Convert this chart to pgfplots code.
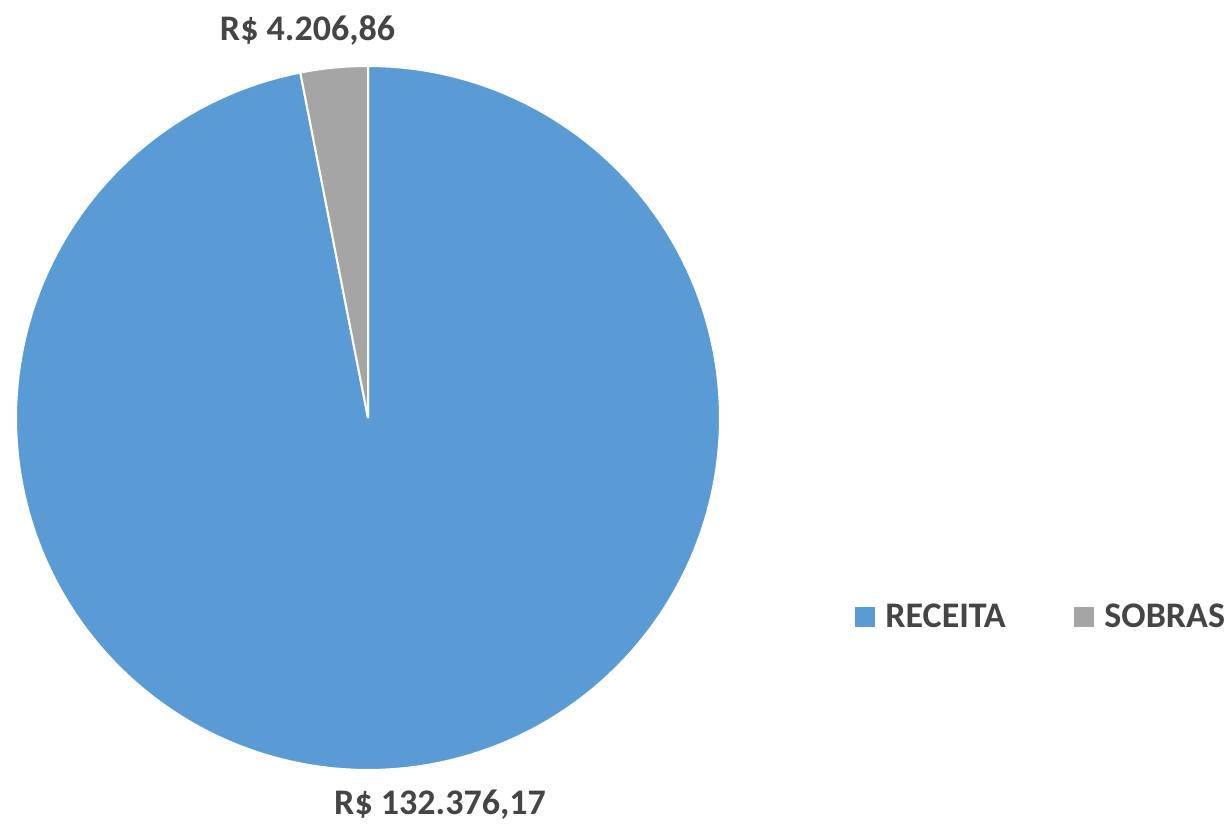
\documentclass[border=0pt]{standalone}
\usepackage{pgfplots}
\pgfplotsset{compat=1.18}
\usepackage{pgfplotstable}
\usepackage{fontspec}
\setmainfont{Carlito}
\definecolor{rec}{HTML}{5B9BD5}
\definecolor{sob}{HTML}{A5A5A5}
\definecolor{txt}{HTML}{454545}
\pgfplotstableread{
name value
RECEITA 132376.17
SOBRAS 4206.86
}\piedata
\pgfplotstablegetelem{0}{value}\of\piedata \let\vR\pgfplotsretval
\pgfplotstablegetelem{1}{value}\of\piedata \let\vS\pgfplotsretval
\edef\eS{\fpeval{90+360*\vS/(\vR+\vS)}}
\begin{document}
\begin{tikzpicture}
\useasboundingbox (0,0) rectangle (612pt,412pt);
\begin{axis}[
  at={(0,0)}, anchor=south west,
  scale only axis, width=612pt, height=412pt,
  xmin=0, xmax=1224, ymin=0, ymax=824,
  hide axis, clip=false,
  font=\fontsize{18}{20}\selectfont\bfseries\color{txt},
  legend columns=2,
  legend style={draw=none, fill=none, at={(axis cs:855,207)}, anchor=west,
    inner sep=0pt, nodes={inner sep=0pt}, text=txt,
    font=\fontsize{18}{20}\selectfont\bfseries},
  legend cell align=left,
]
\addplot[fill=rec, draw=white, line width=1pt, domain=\eS:450, samples=200, variable=\t,
  legend image code/.code={\fill[rec] (0pt,-4.5pt) rectangle (9pt,4.5pt);}]
  ({368+352*cos(\t)},{406+352*sin(\t)}) -- (axis cs:368,406) -- cycle;
\addlegendentry{\makebox[99.5pt][l]{\hspace{5pt}RECEITA}}
\addplot[fill=sob, draw=white, line width=1pt, domain=90:\eS, samples=20, variable=\t,
  legend image code/.code={\fill[sob] (0pt,-4.5pt) rectangle (9pt,4.5pt);}]
  ({368+352*cos(\t)},{406+352*sin(\t)}) -- (axis cs:368,406) -- cycle;
\addlegendentry{\hspace{5pt}SOBRAS}
\node[anchor=base, inner sep=0pt] at (axis cs:307.5,783) {R\$ 4.206,86};
\node[anchor=base, inner sep=0pt] at (axis cs:440,10) {R\$ 132.376,17};
\end{axis}
\end{tikzpicture}
\end{document}
